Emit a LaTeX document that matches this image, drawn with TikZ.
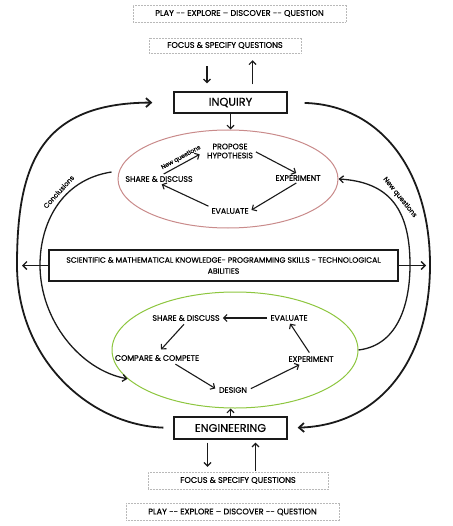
\documentclass[tikz,border=0pt]{standalone}
\usepackage{fontspec}
\setmainfont{Poppins}[FakeBold=0.4]
\usetikzlibrary{arrows.meta,shapes.geometric,positioning}
\definecolor{rose}{HTML}{C98B8B}
\definecolor{leaf}{HTML}{8DC63F}
\definecolor{ink}{HTML}{1A1A1A}

\begin{document}
\begin{tikzpicture}[x=1pt,y=-1pt,>={Straight Barb[length=3.5pt,width=7pt]},
  hint/.style={draw=gray!55,densely dotted,line width=0.5pt,minimum height=17pt,font=\fontsize{8.2}{9}\selectfont},
  phase/.style={draw=ink,line width=1.4pt,minimum width=113pt,minimum height=21pt,font=\fontsize{11.3}{12}\selectfont},
  stage/.style={font=\fontsize{7.9}{9}\selectfont,align=center,inner sep=1pt},
  cyc/.style={draw,ellipse,line width=1pt,inner sep=0pt},
  arr/.style={->,line width=1.1pt,draw=ink},
  bigarc/.style={->,line width=1.8pt,draw=ink,>={Straight Barb[length=5pt,width=9pt]}},
  sidearc/.style={->,line width=1.3pt,draw=ink,>={Straight Barb[length=4pt,width=7pt]}},
  tag/.style={font=\fontsize{6.8}{7}\selectfont,inner sep=1pt}]
\useasboundingbox (0,0) rectangle (452,526);

% prompts above and below
\node[hint,minimum width=213pt] (playtop) at (239.5,13.5) {PLAY -{}- EXPLORE – DISCOVER -{}- QUESTION};
\node[hint,minimum width=152pt,minimum height=15pt] (focustop) at (225,45.5) {FOCUS \& SPECIFY QUESTIONS};
\node[hint,minimum width=180pt] (focusbot) at (238,480.5) {FOCUS \& SPECIFY QUESTIONS};
\node[hint,minimum width=213pt] (playbot) at (232.5,512) {PLAY -{}- EXPLORE – DISCOVER -{}- QUESTION};

% the two phases and the shared knowledge
\node[phase] (inquiry) at (230.5,102.5) {INQUIRY};
\node[phase,minimum height=22pt] (engineering) at (230.5,428) {ENGINEERING};
\node[draw=ink,line width=1.4pt,minimum width=349pt,minimum height=31pt,align=center,
  font=\fontsize{7.7}{11}\selectfont] (knowledge) at (223.5,265.5)
  {SCIENTIFIC \& MATHEMATICAL KNOWLEDGE- PROGRAMMING SKILLS - TECHNOLOGICAL\\ABILITIES};

% inquiry cycle
\node[cyc,draw=rose,minimum width=220pt,minimum height=98pt] (pinkell) at (228,179) {};
\node[stage] (ph) at (230,151) {PROPOSE\\HYPOTHESIS};
\node[stage] (iexp) at (298,178) {EXPERIMENT};
\node[stage] (ieval) at (230,211) {EVALUATE};
\node[stage] (isd) at (159,179) {SHARE \& DISCUSS};

% engineering cycle
\node[cyc,draw=leaf,minimum width=246pt,minimum height=116pt] (greenell) at (235,350) {};
\node[stage] (gsd) at (186,318) {SHARE \& DISCUSS};
\node[stage] (geval) at (289,318) {EVALUATE};
\node[stage] (gcc) at (157,358) {COMPARE \& COMPETE};
\node[stage] (gexp) at (311,359) {EXPERIMENT};
\node[stage] (gdes) at (233,390) {DESIGN};

\coordinate (leftend) at (22,265.5);
\coordinate (rightend) at (426,265.5);

% prompts to phases
\draw[arr,shorten <=13pt,shorten >=8pt] ([xshift=-18pt]focustop.south) -- ([xshift=-18pt]focustop.south |- inquiry.north);
\draw[arr,shorten <=7pt,shorten >=7pt] ([xshift=22pt]inquiry.north) -- ([xshift=22pt]inquiry.north |- focustop.south);
\draw[arr,shorten <=3pt,shorten >=5pt] ([xshift=-23pt]engineering.south) -- ([xshift=-23pt]engineering.south |- focusbot.north);
\draw[arr,shorten <=1pt,shorten >=3pt] ([xshift=25pt]engineering.south |- focusbot.north) -- ([xshift=25pt]engineering.south);

\draw[arr] (inquiry.south) -- (inquiry.south |- pinkell.north);
\draw[arr] (engineering.north) -- (engineering.north |- greenell.south);

% inquiry steps
\draw[arr,shorten <=2pt,shorten >=2pt] (ph.east) -- (iexp.north);
\draw[arr,shorten <=2pt,shorten >=2pt] (iexp.south) -- (ieval.east);
\draw[arr,shorten <=2pt,shorten >=3pt] (ieval.north west) -- (isd.south);
\draw[arr,shorten <=2pt,shorten >=7pt] ([xshift=3pt]isd.north) -- (ph.west)
  node[midway,sloped,above=1.5pt,tag,font=\fontsize{6}{7}\selectfont] {New questions};

% engineering steps
\draw[arr,shorten <=2pt,shorten >=2pt] (geval.west) -- (gsd.east);
\draw[arr,shorten <=3pt,shorten >=6pt] (gsd.south) -- (gcc.north);
\draw[arr,shorten <=4pt,shorten >=3pt] ([xshift=15pt]gcc.south) -- (gdes.west);
\draw[arr,shorten <=3pt,shorten >=4pt] (gdes.east) -- ([xshift=-8pt]gexp.south);
\draw[arr,shorten <=3pt,shorten >=2pt] (gexp.north) -- (geval.south);

% knowledge out to both sides
\draw[arr,line width=1.3pt,>={Straight Barb[length=4pt,width=8pt]}] (knowledge.west) -- (leftend);
\draw[arr,line width=1.3pt,>={Straight Barb[length=4pt,width=8pt]}] (knowledge.east) -- (rightend);

% outer loop between phases
\draw[bigarc,shorten <=10pt,shorten >=21pt] (engineering.west) .. controls (90,425) and (17,360) .. (17,265)
  .. controls (17,165) and (40,103) .. (inquiry.west);
\draw[bigarc,shorten <=17pt,shorten >=10pt] (inquiry.east) .. controls (380,105) and (430,170) .. (430,265)
  .. controls (430,360) and (380,425) .. (engineering.east);

% links between the cycles
\draw[sidearc] ([shift={(-6,-7)}]pinkell.west) .. controls (60,180) and (40,225) .. (40,265)
  node[pos=0.4,sloped,above=3pt,tag] {Conclusions}
  .. controls (40,320) and (80,370) .. (greenell.195);
\draw[sidearc] (greenell.east) .. controls (400,345) and (410,300) .. (410,265)
  .. controls (410,210) and (390,182) .. (pinkell.east)
  node[pos=0.5,sloped,above=3pt,tag] {New questions};
\end{tikzpicture}
\end{document}
